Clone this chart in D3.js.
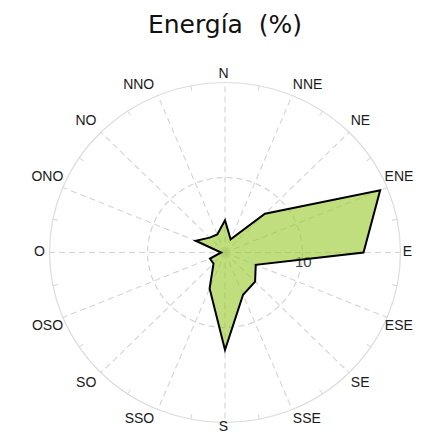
<!DOCTYPE html>
<meta charset="utf-8">
<head>
<style>
  body { margin: 0; background: #fff; }
  text { font-family: "Liberation Sans", Arial, sans-serif; }
</style>
</head>
<body>
<div class="chart"></div>
<script src="https://d3js.org/d3.v7.min.js" charset="utf-8"></script>
<script>
// wind directions, clockwise from north
const directions = ['N', 'NNE', 'NE', 'ENE', 'E', 'ESE', 'SE', 'SSE',
  'S', 'SSO', 'SO', 'OSO', 'O', 'ONO', 'NO', 'NNO'];
// energy share per direction (%)
const energy = [4.3, 1.9, 7.3, 21.7, 17.9, 4.3, 5.5, 6.1,
  13.0, 5.2, 2.1, 2.1, 0.5, 4.1, 2.8, 2.6];
const radialTicks = [10];
const radialMax = 22.67;

const width = 433;
const height = 434;
const cx = 225;
const cy = 252.5;
const kx = 1.032; // the picture is a touch wider than tall

const rScale = d3.scaleLinear()
  .domain([0, radialMax])
  .range([0, 170]);

const angle = i => i * 2 * Math.PI / directions.length;
const px = (a, r) => cx + kx * r * Math.sin(a);
const py = (a, r) => cy - r * Math.cos(a);

const svg = d3.select('.chart')
  .append('svg')
  .attr('width', width)
  .attr('height', height);

svg.append('text')
  .attr('x', cx)
  .attr('y', 33)
  .attr('text-anchor', 'middle')
  .style('font-family', '"DejaVu Sans", Verdana, sans-serif')
  .style('font-size', '25px')
  .style('white-space', 'pre')
  .attr('fill', '#111')
  .text('Energía  (%)');

const grid = svg.append('g').attr('class', 'grid');

// outer circle
grid.append('ellipse')
  .attr('cx', cx).attr('cy', cy)
  .attr('rx', kx * rScale(radialMax)).attr('ry', rScale(radialMax))
  .attr('fill', 'none')
  .attr('stroke', '#dcdcdc')
  .attr('stroke-width', 1.2);

// inner dashed circles
grid.selectAll('.ring').data(radialTicks)
  .enter()
  .append('ellipse')
  .attr('class', 'ring')
  .attr('cx', cx).attr('cy', cy)
  .attr('rx', d => kx * rScale(d)).attr('ry', d => rScale(d))
  .attr('fill', 'none')
  .attr('stroke', '#d4d4d4')
  .attr('stroke-width', 1.2)
  .attr('stroke-dasharray', '6,4');

// spokes
grid.selectAll('.spoke').data(directions)
  .enter()
  .append('line')
  .attr('class', 'spoke')
  .attr('x1', cx).attr('y1', cy)
  .attr('x2', (d, i) => px(angle(i), rScale(radialMax)))
  .attr('y2', (d, i) => py(angle(i), rScale(radialMax)))
  .attr('stroke', '#d4d4d4')
  .attr('stroke-width', 1.1)
  .attr('stroke-dasharray', '6,4');

// small ticks half way between spokes
grid.selectAll('.minor').data(directions)
  .enter()
  .append('line')
  .attr('class', 'minor')
  .attr('x1', (d, i) => px(angle(i + 0.5), rScale(radialMax)))
  .attr('y1', (d, i) => py(angle(i + 0.5), rScale(radialMax)))
  .attr('x2', (d, i) => px(angle(i + 0.5), rScale(radialMax) - 5))
  .attr('y2', (d, i) => py(angle(i + 0.5), rScale(radialMax) - 5))
  .attr('stroke', '#d4d4d4')
  .attr('stroke-width', 1);

// radial tick label
svg.selectAll('.rlabel').data(radialTicks)
  .enter()
  .append('text')
  .attr('class', 'rlabel')
  .attr('x', d => px(Math.PI / 2, rScale(d)) + 1)
  .attr('y', cy + 14)
  .attr('text-anchor', 'middle')
  .style('font-size', '15px')
  .attr('fill', '#444')
  .text(d => d);

// the energy polygon
const line = d3.line()
  .x((d, i) => px(angle(i), rScale(d)))
  .y((d, i) => py(angle(i), rScale(d)))
  .curve(d3.curveLinearClosed);

svg.append('path')
  .datum(energy)
  .attr('d', line)
  .attr('fill', 'rgb(150,200,40)')
  .attr('fill-opacity', 0.6)
  .attr('stroke', '#000')
  .attr('stroke-width', 2)
  .attr('stroke-linejoin', 'miter');

// direction labels, pushed out by half their box so they clear the circle
const lcx = 223.5;
const lcy = 251;
const labelRx = 184;
const labelRy = 178;
svg.selectAll('.dir').data(directions)
  .enter()
  .append('text')
  .attr('class', 'dir')
  .attr('text-anchor', 'middle')
  .attr('dy', '0.35em')
  .style('font-size', '14px')
  .attr('fill', '#1a1a1a')
  .text(d => d)
  .each(function(d, i) {
    const a = angle(i);
    const w = this.getComputedTextLength();
    const s = Math.sin(a);
    const c = Math.cos(a);
    const sx = Math.abs(s) > 1e-6 ? Math.sign(s) * (w / 2) * Math.abs(c) : 0;
    const sy = Math.abs(c) > 1e-6 ? -Math.sign(c) * 7 * Math.abs(s) : 0;
    d3.select(this)
      .attr('x', lcx + labelRx * s + sx)
      .attr('y', Math.min(lcy - labelRy * c + sy, height - 8));
  });
</script>
</body>
